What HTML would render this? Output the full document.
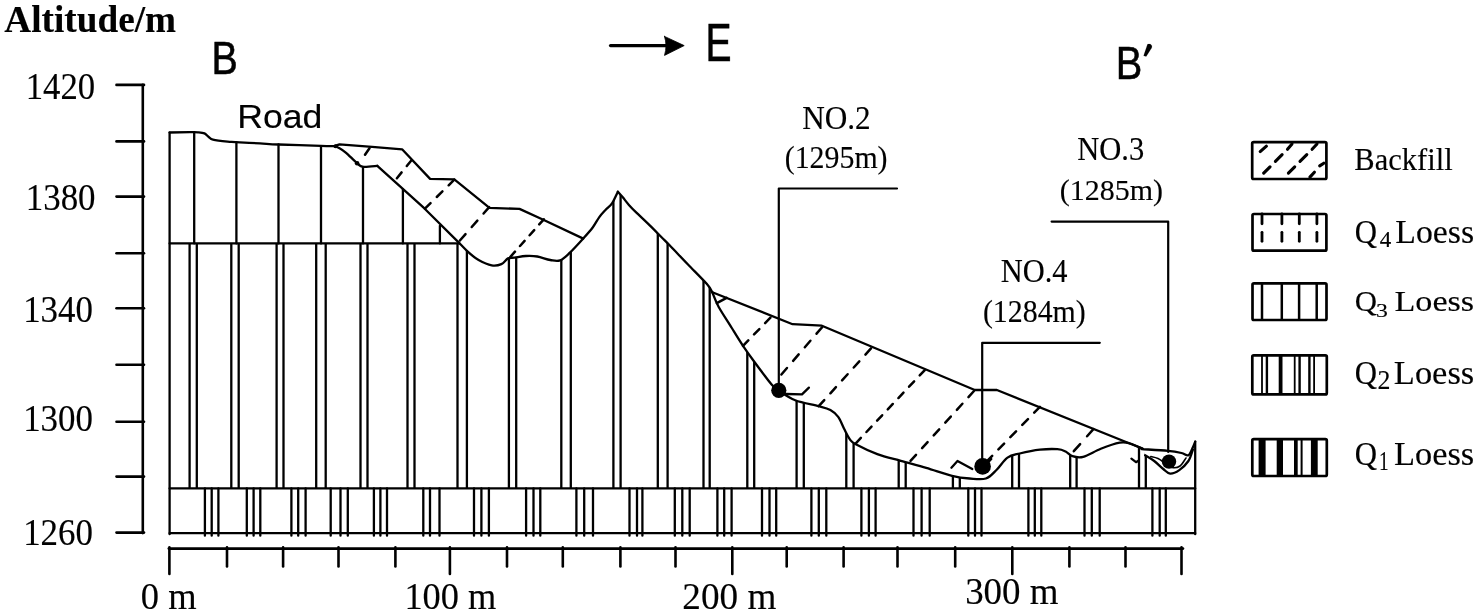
<!DOCTYPE html>
<html><head><meta charset="utf-8"><title>Cross-section B-B'</title>
<style>html,body{margin:0;padding:0;background:#fff;}body{width:1479px;height:614px;overflow:hidden;font-family:"Liberation Serif",serif;}svg{display:block;}</style>
</head><body>
<svg width="1479" height="614" viewBox="0 0 1479 614"><rect width="1479" height="614" fill="#fff"/><g stroke="#000" stroke-linecap="round" stroke-linejoin="round" fill="none"><line x1="610.5" y1="45.6" x2="668.0" y2="45.6" stroke-width="3.2" />
<path d="M664.5,36.4 L684.2,45.6 L664.5,55.4 Q667.5,45.6 664.5,36.4 Z" fill="#000" stroke="#000" stroke-width="0.8"/>
<line x1="142.8" y1="84.9" x2="142.8" y2="533.1" stroke-width="2.6" />
<line x1="116.5" y1="84.9" x2="144.0" y2="84.9" stroke-width="2.6" />
<line x1="116.5" y1="141.4" x2="144.0" y2="141.4" stroke-width="2.6" />
<line x1="116.5" y1="196.6" x2="144.0" y2="196.6" stroke-width="2.6" />
<line x1="116.5" y1="253.2" x2="144.0" y2="253.2" stroke-width="2.6" />
<line x1="116.5" y1="308.2" x2="144.0" y2="308.2" stroke-width="2.6" />
<line x1="116.5" y1="364.8" x2="144.0" y2="364.8" stroke-width="2.6" />
<line x1="116.5" y1="421.8" x2="144.0" y2="421.8" stroke-width="2.6" />
<line x1="116.5" y1="476.6" x2="144.0" y2="476.6" stroke-width="2.6" />
<line x1="116.5" y1="532.6" x2="144.0" y2="532.6" stroke-width="2.6" />
<line x1="168.8" y1="548.6" x2="1183.0" y2="548.6" stroke-width="2.6" />
<line x1="169.4" y1="547.4" x2="169.4" y2="574.0" stroke-width="2.6" />
<line x1="227.0" y1="547.4" x2="227.0" y2="566.5" stroke-width="2.6" />
<line x1="283.1" y1="547.4" x2="283.1" y2="566.5" stroke-width="2.6" />
<line x1="338.5" y1="547.4" x2="338.5" y2="566.5" stroke-width="2.6" />
<line x1="395.4" y1="547.4" x2="395.4" y2="566.5" stroke-width="2.6" />
<line x1="449.9" y1="547.4" x2="449.9" y2="574.0" stroke-width="2.6" />
<line x1="507.0" y1="547.4" x2="507.0" y2="566.5" stroke-width="2.6" />
<line x1="562.8" y1="547.4" x2="562.8" y2="566.5" stroke-width="2.6" />
<line x1="620.4" y1="547.4" x2="620.4" y2="566.5" stroke-width="2.6" />
<line x1="675.5" y1="547.4" x2="675.5" y2="566.5" stroke-width="2.6" />
<line x1="732.3" y1="547.4" x2="732.3" y2="574.0" stroke-width="2.6" />
<line x1="786.7" y1="547.4" x2="786.7" y2="566.5" stroke-width="2.6" />
<line x1="843.6" y1="547.4" x2="843.6" y2="566.5" stroke-width="2.6" />
<line x1="897.5" y1="547.4" x2="897.5" y2="566.5" stroke-width="2.6" />
<line x1="955.2" y1="547.4" x2="955.2" y2="566.5" stroke-width="2.6" />
<line x1="1012.3" y1="547.4" x2="1012.3" y2="574.0" stroke-width="2.6" />
<line x1="1069.4" y1="547.4" x2="1069.4" y2="566.5" stroke-width="2.6" />
<line x1="1125.5" y1="547.4" x2="1125.5" y2="566.5" stroke-width="2.6" />
<line x1="1181.5" y1="547.4" x2="1181.5" y2="574.0" stroke-width="2.6" />
<line x1="204.9" y1="488.4" x2="204.9" y2="535.7" stroke-width="2.3" />
<line x1="211.7" y1="488.4" x2="211.7" y2="535.7" stroke-width="2.3" />
<line x1="218.4" y1="488.4" x2="218.4" y2="535.7" stroke-width="2.3" />
<line x1="246.8" y1="488.4" x2="246.8" y2="535.7" stroke-width="2.3" />
<line x1="253.6" y1="488.4" x2="253.6" y2="535.7" stroke-width="2.3" />
<line x1="260.3" y1="488.4" x2="260.3" y2="535.7" stroke-width="2.3" />
<line x1="291.4" y1="488.4" x2="291.4" y2="535.7" stroke-width="2.3" />
<line x1="298.2" y1="488.4" x2="298.2" y2="535.7" stroke-width="2.3" />
<line x1="305.6" y1="488.4" x2="305.6" y2="535.7" stroke-width="2.3" />
<line x1="330.7" y1="488.4" x2="330.7" y2="535.7" stroke-width="2.3" />
<line x1="340.5" y1="488.4" x2="340.5" y2="535.7" stroke-width="2.3" />
<line x1="347.8" y1="488.4" x2="347.8" y2="535.7" stroke-width="2.3" />
<line x1="373.9" y1="488.4" x2="373.9" y2="535.7" stroke-width="2.3" />
<line x1="380.4" y1="488.4" x2="380.4" y2="535.7" stroke-width="2.3" />
<line x1="387.0" y1="488.4" x2="387.0" y2="535.7" stroke-width="2.3" />
<line x1="423.3" y1="488.4" x2="423.3" y2="535.7" stroke-width="2.3" />
<line x1="430.0" y1="488.4" x2="430.0" y2="535.7" stroke-width="2.3" />
<line x1="439.5" y1="488.4" x2="439.5" y2="535.7" stroke-width="2.3" />
<line x1="474.0" y1="488.4" x2="474.0" y2="535.7" stroke-width="2.3" />
<line x1="481.4" y1="488.4" x2="481.4" y2="535.7" stroke-width="2.3" />
<line x1="488.9" y1="488.4" x2="488.9" y2="535.7" stroke-width="2.3" />
<line x1="526.1" y1="488.4" x2="526.1" y2="535.7" stroke-width="2.3" />
<line x1="533.5" y1="488.4" x2="533.5" y2="535.7" stroke-width="2.3" />
<line x1="540.3" y1="488.4" x2="540.3" y2="535.7" stroke-width="2.3" />
<line x1="576.4" y1="488.4" x2="576.4" y2="535.7" stroke-width="2.3" />
<line x1="584.2" y1="488.4" x2="584.2" y2="535.7" stroke-width="2.3" />
<line x1="593.0" y1="488.4" x2="593.0" y2="535.7" stroke-width="2.3" />
<line x1="629.5" y1="488.4" x2="629.5" y2="535.7" stroke-width="2.3" />
<line x1="637.0" y1="488.4" x2="637.0" y2="535.7" stroke-width="2.3" />
<line x1="642.4" y1="488.4" x2="642.4" y2="535.7" stroke-width="2.3" />
<line x1="674.8" y1="488.4" x2="674.8" y2="535.7" stroke-width="2.3" />
<line x1="682.3" y1="488.4" x2="682.3" y2="535.7" stroke-width="2.3" />
<line x1="689.7" y1="488.4" x2="689.7" y2="535.7" stroke-width="2.3" />
<line x1="717.4" y1="488.4" x2="717.4" y2="535.7" stroke-width="2.3" />
<line x1="724.2" y1="488.4" x2="724.2" y2="535.7" stroke-width="2.3" />
<line x1="731.6" y1="488.4" x2="731.6" y2="535.7" stroke-width="2.3" />
<line x1="762.0" y1="488.4" x2="762.0" y2="535.7" stroke-width="2.3" />
<line x1="769.5" y1="488.4" x2="769.5" y2="535.7" stroke-width="2.3" />
<line x1="776.2" y1="488.4" x2="776.2" y2="535.7" stroke-width="2.3" />
<line x1="811.4" y1="488.4" x2="811.4" y2="535.7" stroke-width="2.3" />
<line x1="818.8" y1="488.4" x2="818.8" y2="535.7" stroke-width="2.3" />
<line x1="826.3" y1="488.4" x2="826.3" y2="535.7" stroke-width="2.3" />
<line x1="861.4" y1="488.4" x2="861.4" y2="535.7" stroke-width="2.3" />
<line x1="868.9" y1="488.4" x2="868.9" y2="535.7" stroke-width="2.3" />
<line x1="875.6" y1="488.4" x2="875.6" y2="535.7" stroke-width="2.3" />
<line x1="913.5" y1="488.4" x2="913.5" y2="535.7" stroke-width="2.3" />
<line x1="921.6" y1="488.4" x2="921.6" y2="535.7" stroke-width="2.3" />
<line x1="929.7" y1="488.4" x2="929.7" y2="535.7" stroke-width="2.3" />
<line x1="968.3" y1="488.4" x2="968.3" y2="535.7" stroke-width="2.3" />
<line x1="975.0" y1="488.4" x2="975.0" y2="535.7" stroke-width="2.3" />
<line x1="981.5" y1="488.4" x2="981.5" y2="535.7" stroke-width="2.3" />
<line x1="1028.4" y1="488.4" x2="1028.4" y2="535.7" stroke-width="2.3" />
<line x1="1034.8" y1="488.4" x2="1034.8" y2="535.7" stroke-width="2.3" />
<line x1="1041.3" y1="488.4" x2="1041.3" y2="535.7" stroke-width="2.3" />
<line x1="1084.5" y1="488.4" x2="1084.5" y2="535.7" stroke-width="2.3" />
<line x1="1091.8" y1="488.4" x2="1091.8" y2="535.7" stroke-width="2.3" />
<line x1="1099.7" y1="488.4" x2="1099.7" y2="535.7" stroke-width="2.3" />
<line x1="1152.4" y1="488.4" x2="1152.4" y2="535.7" stroke-width="2.3" />
<line x1="1159.7" y1="488.4" x2="1159.7" y2="535.7" stroke-width="2.3" />
<line x1="1165.8" y1="488.4" x2="1165.8" y2="535.7" stroke-width="2.3" />
<clipPath id="q2clip"><path d="M169.6,243.4 L459.1,243.4 L459.1,242.9 C460.7,244.5 465.6,249.8 468.9,252.7 C472.1,255.5 474.8,257.9 478.6,260.0 C482.4,262.1 487.9,264.6 491.7,265.3 C495.5,266.0 498.7,265.2 501.4,264.1 C504.1,263.0 505.8,259.5 508.0,258.4 C510.2,257.3 511.5,258.0 514.5,257.6 C517.5,257.2 522.1,256.2 525.9,256.0 C529.7,255.8 533.2,255.8 537.3,256.5 C541.4,257.2 546.5,259.4 550.3,260.0 C554.1,260.6 556.8,261.6 560.1,260.4 C563.4,259.2 566.1,256.3 569.9,252.7 C573.7,249.1 579.1,243.1 582.9,238.9 C586.7,234.7 590.0,231.1 592.7,227.5 C595.4,223.9 597.1,220.1 599.3,217.1 C601.5,214.1 604.0,211.6 606.1,209.3 C608.2,207.0 610.0,206.3 612.0,203.4 C614.0,200.5 616.9,193.6 617.9,191.7 L617.9,191.7 C618.8,192.7 621.2,195.4 623.0,197.6 C624.8,199.8 626.7,202.4 628.9,204.9 C631.1,207.4 632.9,209.2 636.4,212.6 C639.9,216.0 645.8,221.4 650.0,225.6 C654.2,229.8 658.5,234.2 661.8,237.5 C665.1,240.8 665.2,240.8 669.6,245.3 C674.0,249.8 681.8,258.1 688.0,264.5 C694.2,270.9 702.7,279.2 706.7,283.8 C710.8,288.4 711.4,290.9 712.3,292.3 L712.3,292.3 C713.4,294.8 715.5,301.1 718.7,307.0 C722.0,312.9 727.8,321.5 731.8,328.0 C735.8,334.5 739.2,340.2 743.0,345.8 C746.8,351.4 750.5,356.6 754.3,361.7 C758.0,366.8 762.4,372.6 765.5,376.7 C768.6,380.8 770.8,383.7 773.0,386.0 C775.2,388.3 774.9,388.1 778.6,390.5 C782.3,392.9 788.5,397.7 795.2,400.3 C801.9,402.9 812.8,404.6 818.7,406.2 C824.6,407.8 827.1,408.3 830.4,410.1 C833.6,411.9 835.9,413.8 838.2,416.9 C840.5,420.0 842.2,424.9 844.1,428.7 C846.0,432.4 848.0,436.8 849.9,439.4 C851.8,442.0 851.2,441.9 855.8,444.3 C860.4,446.8 869.8,451.3 877.3,454.1 C884.8,456.9 892.6,458.6 900.8,460.9 C908.9,463.2 917.7,465.3 926.2,467.8 C934.7,470.3 944.8,474.0 952.0,475.8 C959.2,477.6 964.0,478.1 969.6,478.5 C975.2,478.9 981.4,480.0 985.9,478.5 C990.4,477.0 993.1,473.2 996.7,469.7 C1000.3,466.2 1003.7,460.3 1007.5,457.6 C1011.3,454.9 1014.3,454.8 1019.7,453.5 C1025.1,452.2 1033.7,450.4 1040.0,449.7 C1046.3,449.0 1053.2,448.9 1057.5,449.2 C1061.8,449.5 1063.1,450.3 1065.6,451.5 C1068.1,452.7 1069.5,455.3 1072.4,456.2 C1075.3,457.1 1078.5,458.1 1083.2,456.9 C1087.9,455.7 1094.7,451.2 1100.8,448.8 C1106.9,446.4 1114.8,443.6 1119.7,442.7 C1124.6,441.8 1126.2,442.5 1130.0,443.5 C1133.8,444.5 1140.7,447.9 1142.8,448.8 L1145.1,455.3 L1145.1,455.3 C1146.6,456.2 1151.2,458.7 1154.2,461.0 C1157.2,463.3 1160.7,466.9 1163.3,469.0 C1165.9,471.1 1167.4,473.4 1170.1,473.6 C1172.8,473.8 1176.2,472.2 1179.3,470.1 C1182.3,468.0 1186.1,464.4 1188.4,461.0 C1190.7,457.6 1192.2,451.5 1192.9,449.6 L1195.2,449.6 L1195.2,488.4 L169.6,488.4 Z"/></clipPath>
<g clip-path="url(#q2clip)">
<line x1="189.6" y1="150.0" x2="189.6" y2="490.4" stroke-width="2.3" stroke-linecap="butt"/>
<line x1="196.8" y1="150.0" x2="196.8" y2="490.4" stroke-width="2.3" stroke-linecap="butt"/>
<line x1="231.3" y1="150.0" x2="231.3" y2="490.4" stroke-width="2.3" stroke-linecap="butt"/>
<line x1="238.7" y1="150.0" x2="238.7" y2="490.4" stroke-width="2.3" stroke-linecap="butt"/>
<line x1="276.6" y1="150.0" x2="276.6" y2="490.4" stroke-width="2.3" stroke-linecap="butt"/>
<line x1="283.5" y1="150.0" x2="283.5" y2="490.4" stroke-width="2.3" stroke-linecap="butt"/>
<line x1="316.2" y1="150.0" x2="316.2" y2="490.4" stroke-width="2.3" stroke-linecap="butt"/>
<line x1="325.7" y1="150.0" x2="325.7" y2="490.4" stroke-width="2.3" stroke-linecap="butt"/>
<line x1="360.5" y1="150.0" x2="360.5" y2="490.4" stroke-width="2.3" stroke-linecap="butt"/>
<line x1="367.5" y1="150.0" x2="367.5" y2="490.4" stroke-width="2.3" stroke-linecap="butt"/>
<line x1="407.5" y1="150.0" x2="407.5" y2="490.4" stroke-width="2.3" stroke-linecap="butt"/>
<line x1="414.5" y1="150.0" x2="414.5" y2="490.4" stroke-width="2.3" stroke-linecap="butt"/>
<line x1="457.5" y1="150.0" x2="457.5" y2="490.4" stroke-width="2.3" stroke-linecap="butt"/>
<line x1="466.9" y1="150.0" x2="466.9" y2="490.4" stroke-width="2.3" stroke-linecap="butt"/>
<line x1="508.9" y1="150.0" x2="508.9" y2="490.4" stroke-width="2.3" stroke-linecap="butt"/>
<line x1="516.2" y1="150.0" x2="516.2" y2="490.4" stroke-width="2.3" stroke-linecap="butt"/>
<line x1="561.3" y1="150.0" x2="561.3" y2="490.4" stroke-width="2.3" stroke-linecap="butt"/>
<line x1="570.8" y1="150.0" x2="570.8" y2="490.4" stroke-width="2.3" stroke-linecap="butt"/>
<line x1="613.4" y1="150.0" x2="613.4" y2="490.4" stroke-width="2.3" stroke-linecap="butt"/>
<line x1="620.6" y1="150.0" x2="620.6" y2="490.4" stroke-width="2.3" stroke-linecap="butt"/>
<line x1="657.8" y1="150.0" x2="657.8" y2="490.4" stroke-width="2.3" stroke-linecap="butt"/>
<line x1="667.6" y1="150.0" x2="667.6" y2="490.4" stroke-width="2.3" stroke-linecap="butt"/>
<line x1="703.5" y1="150.0" x2="703.5" y2="490.4" stroke-width="2.3" stroke-linecap="butt"/>
<line x1="709.7" y1="150.0" x2="709.7" y2="490.4" stroke-width="2.3" stroke-linecap="butt"/>
<line x1="747.3" y1="150.0" x2="747.3" y2="490.4" stroke-width="2.3" stroke-linecap="butt"/>
<line x1="754.2" y1="150.0" x2="754.2" y2="490.4" stroke-width="2.3" stroke-linecap="butt"/>
<line x1="796.6" y1="150.0" x2="796.6" y2="490.4" stroke-width="2.3" stroke-linecap="butt"/>
<line x1="803.8" y1="150.0" x2="803.8" y2="490.4" stroke-width="2.3" stroke-linecap="butt"/>
<line x1="846.3" y1="150.0" x2="846.3" y2="490.4" stroke-width="2.3" stroke-linecap="butt"/>
<line x1="853.6" y1="150.0" x2="853.6" y2="490.4" stroke-width="2.3" stroke-linecap="butt"/>
<line x1="898.7" y1="150.0" x2="898.7" y2="490.4" stroke-width="2.3" stroke-linecap="butt"/>
<line x1="905.7" y1="150.0" x2="905.7" y2="490.4" stroke-width="2.3" stroke-linecap="butt"/>
<line x1="952.9" y1="150.0" x2="952.9" y2="490.4" stroke-width="2.3" stroke-linecap="butt"/>
<line x1="959.8" y1="150.0" x2="959.8" y2="490.4" stroke-width="2.3" stroke-linecap="butt"/>
<line x1="1012.2" y1="150.0" x2="1012.2" y2="490.4" stroke-width="2.3" stroke-linecap="butt"/>
<line x1="1019.0" y1="150.0" x2="1019.0" y2="490.4" stroke-width="2.3" stroke-linecap="butt"/>
<line x1="1070.2" y1="150.0" x2="1070.2" y2="490.4" stroke-width="2.3" stroke-linecap="butt"/>
<line x1="1076.6" y1="150.0" x2="1076.6" y2="490.4" stroke-width="2.3" stroke-linecap="butt"/>
<line x1="1139.0" y1="150.0" x2="1139.0" y2="490.4" stroke-width="2.3" stroke-linecap="butt"/>
<line x1="1145.8" y1="150.0" x2="1145.8" y2="490.4" stroke-width="2.3" stroke-linecap="butt"/>
</g>
<line x1="194.2" y1="132.5" x2="194.2" y2="243.4" stroke-width="2.3" />
<line x1="236.4" y1="142.2" x2="236.4" y2="243.4" stroke-width="2.3" />
<line x1="278.5" y1="144.4" x2="278.5" y2="243.4" stroke-width="2.3" />
<line x1="321.0" y1="146.2" x2="321.0" y2="243.4" stroke-width="2.3" />
<line x1="363.0" y1="166.8" x2="363.0" y2="243.4" stroke-width="2.3" />
<line x1="402.9" y1="189.5" x2="402.9" y2="243.4" stroke-width="2.3" />
<line x1="439.9" y1="225.8" x2="439.9" y2="243.4" stroke-width="2.3" />
<line x1="169.6" y1="488.4" x2="1195.2" y2="488.4" stroke-width="2.3" />
<line x1="169.6" y1="243.4" x2="459.0" y2="243.4" stroke-width="2.3" />
<line x1="169.6" y1="533.2" x2="1195.2" y2="533.2" stroke-width="2.3" />
<line x1="169.6" y1="132.6" x2="169.6" y2="534.2" stroke-width="2.3" />
<line x1="1195.2" y1="441.6" x2="1195.2" y2="534.2" stroke-width="2.3" />
<path d="M169.6,132.5 C173.0,132.4 185.3,132.2 190.0,132.2 C194.7,132.2 195.6,132.1 198.0,132.3 C200.4,132.5 202.7,132.6 204.5,133.4 C206.3,134.2 207.6,136.2 209.0,137.2 C210.4,138.2 209.9,138.9 213.0,139.6 C216.1,140.3 223.9,141.2 227.6,141.6 C231.3,142.0 229.9,141.8 235.3,142.1 C240.7,142.4 252.8,143.0 260.0,143.4 C267.2,143.8 268.4,144.1 278.6,144.5 C288.8,144.9 311.7,145.6 321.0,145.9 C330.3,146.2 332.1,146.1 334.3,146.2" fill="none" stroke-width="2.3" />
<polyline points="334.3,146.2 339.5,144.3 372.1,146.9 402.1,149.3 430.1,178.9 454.3,179.4 489.5,207.8 519.5,208.9 542.2,219.3 583.3,238.6" fill="none" stroke-width="2.3" />
<path d="M334.3,146.2 C335.2,146.5 337.5,147.1 339.5,148.2 C341.5,149.3 343.2,150.3 346.1,152.8 C349.0,155.3 354.3,160.9 357.1,163.2 C359.9,165.5 359.6,166.4 363.0,166.8 C366.4,167.2 374.9,166.0 377.3,165.8" fill="none" stroke-width="2.3" />
<polyline points="377.3,165.8 424.2,208.2 459.1,242.9" fill="none" stroke-width="2.3" />
<path d="M459.1,242.9 C460.7,244.5 465.6,249.8 468.9,252.7 C472.1,255.5 474.8,257.9 478.6,260.0 C482.4,262.1 487.9,264.6 491.7,265.3 C495.5,266.0 498.7,265.2 501.4,264.1 C504.1,263.0 505.8,259.5 508.0,258.4 C510.2,257.3 511.5,258.0 514.5,257.6 C517.5,257.2 522.1,256.2 525.9,256.0 C529.7,255.8 533.2,255.8 537.3,256.5 C541.4,257.2 546.5,259.4 550.3,260.0 C554.1,260.6 556.8,261.6 560.1,260.4 C563.4,259.2 566.1,256.3 569.9,252.7 C573.7,249.1 579.1,243.1 582.9,238.9 C586.7,234.7 590.0,231.1 592.7,227.5 C595.4,223.9 597.1,220.1 599.3,217.1 C601.5,214.1 604.0,211.6 606.1,209.3 C608.2,207.0 610.0,206.3 612.0,203.4 C614.0,200.5 616.9,193.6 617.9,191.7" fill="none" stroke-width="2.3" />
<path d="M617.9,191.7 C618.8,192.7 621.2,195.4 623.0,197.6 C624.8,199.8 626.7,202.4 628.9,204.9 C631.1,207.4 632.9,209.2 636.4,212.6 C639.9,216.0 645.8,221.4 650.0,225.6 C654.2,229.8 658.5,234.2 661.8,237.5 C665.1,240.8 665.2,240.8 669.6,245.3 C674.0,249.8 681.8,258.1 688.0,264.5 C694.2,270.9 702.7,279.2 706.7,283.8 C710.8,288.4 711.4,290.9 712.3,292.3" fill="none" stroke-width="2.3" />
<polyline points="712.3,292.3 792.6,324.2 821.9,325.7 974.8,390.0 996.9,390.0 1142.8,448.8" fill="none" stroke-width="2.3" />
<path d="M712.3,292.3 C713.4,294.8 715.5,301.1 718.7,307.0 C722.0,312.9 727.8,321.5 731.8,328.0 C735.8,334.5 739.2,340.2 743.0,345.8 C746.8,351.4 750.5,356.6 754.3,361.7 C758.0,366.8 762.4,372.6 765.5,376.7 C768.6,380.8 770.8,383.7 773.0,386.0 C775.2,388.3 774.9,388.1 778.6,390.5 C782.3,392.9 788.5,397.7 795.2,400.3 C801.9,402.9 812.8,404.6 818.7,406.2 C824.6,407.8 827.1,408.3 830.4,410.1 C833.6,411.9 835.9,413.8 838.2,416.9 C840.5,420.0 842.2,424.9 844.1,428.7 C846.0,432.4 848.0,436.8 849.9,439.4 C851.8,442.0 851.2,441.9 855.8,444.3 C860.4,446.8 869.8,451.3 877.3,454.1 C884.8,456.9 892.6,458.6 900.8,460.9 C908.9,463.2 917.7,465.3 926.2,467.8 C934.7,470.3 944.8,474.0 952.0,475.8 C959.2,477.6 964.0,478.1 969.6,478.5 C975.2,478.9 981.4,480.0 985.9,478.5 C990.4,477.0 993.1,473.2 996.7,469.7 C1000.3,466.2 1003.7,460.3 1007.5,457.6 C1011.3,454.9 1014.3,454.8 1019.7,453.5 C1025.1,452.2 1033.7,450.4 1040.0,449.7 C1046.3,449.0 1053.2,448.9 1057.5,449.2 C1061.8,449.5 1063.1,450.3 1065.6,451.5 C1068.1,452.7 1069.5,455.3 1072.4,456.2 C1075.3,457.1 1078.5,458.1 1083.2,456.9 C1087.9,455.7 1094.7,451.2 1100.8,448.8 C1106.9,446.4 1114.8,443.6 1119.7,442.7 C1124.6,441.8 1126.2,442.5 1130.0,443.5 C1133.8,444.5 1140.7,447.9 1142.8,448.8" fill="none" stroke-width="2.3" />
<path d="M1141.6,449.1 C1146.0,449.4 1161.2,450.2 1167.9,450.8 C1174.6,451.4 1178.1,452.2 1181.5,453.0 C1184.9,453.8 1186.5,456.2 1188.4,455.3 C1190.3,454.4 1191.8,449.6 1192.9,447.3 C1194.0,445.0 1194.8,442.6 1195.2,441.6" fill="none" stroke-width="2.3" />
<path d="M1145.1,455.3 C1146.6,456.2 1151.2,458.7 1154.2,461.0 C1157.2,463.3 1160.7,466.9 1163.3,469.0 C1165.9,471.1 1167.4,473.4 1170.1,473.6 C1172.8,473.8 1176.2,472.2 1179.3,470.1 C1182.3,468.0 1186.1,464.4 1188.4,461.0 C1190.7,457.6 1192.2,451.5 1192.9,449.6" fill="none" stroke-width="2.3" />
<path d="M1150.8,456.5 C1152.0,456.8 1155.6,457.4 1158.0,458.5 C1160.4,459.6 1162.7,461.5 1165.0,463.0 C1167.3,464.5 1169.5,467.0 1172.0,467.5 C1174.5,468.0 1177.7,467.6 1180.0,466.0 C1182.3,464.4 1185.0,459.3 1186.0,458.0" fill="none" stroke-width="1.6" />
<polyline points="951.4,467.7 957.5,461.0 972.3,469.0" fill="none" stroke-width="2.3" />
<polyline points="987.5,463.0 991.3,459.0" fill="none" stroke-width="2.3" />
<polyline points="1131.4,458.7 1136.0,462.2 1138.8,460.5" fill="none" stroke-width="2.3" />
<circle cx="357.1" cy="163.2" r="2.3" fill="#000" stroke="none"/>
<circle cx="335.6" cy="146.3" r="2.0" fill="#000" stroke="none"/>
<polyline points="786.0,394.0 802.0,394.4 808.9,387.6" fill="none" stroke-width="2.3" />
<polyline points="897.0,188.5 778.8,188.5 778.8,385.0" fill="none" stroke-width="2.2" />
<polyline points="1099.8,342.8 982.2,342.8 982.2,460.0" fill="none" stroke-width="2.2" />
<polyline points="1051.6,221.6 1168.2,221.6 1168.2,452.0" fill="none" stroke-width="2.2" />
<circle cx="778.8" cy="390.3" r="7.6" fill="#000" stroke="none"/>
<circle cx="982.6" cy="466.4" r="8.3" fill="#000" stroke="none"/>
<circle cx="1169.0" cy="461.6" r="7.2" fill="#000" stroke="none"/>
<line x1="365.0" y1="154.8" x2="369.5" y2="148.2" stroke-width="2.5" stroke-dasharray="7.99 0.00" stroke-linecap="round"/>
<line x1="396.9" y1="178.2" x2="411.5" y2="160.2" stroke-width="2.5" stroke-dasharray="7.48 8.22" stroke-linecap="round"/>
<line x1="424.9" y1="208.7" x2="454.3" y2="179.7" stroke-width="2.5" stroke-dasharray="7.94 8.74" stroke-linecap="round"/>
<line x1="459.9" y1="240.5" x2="489.2" y2="207.1" stroke-width="2.5" stroke-dasharray="8.54 9.40" stroke-linecap="round"/>
<line x1="510.4" y1="256.8" x2="543.8" y2="219.3" stroke-width="2.5" stroke-dasharray="6.88 7.57" stroke-linecap="round"/>
<line x1="716.8" y1="303.2" x2="726.6" y2="297.8" stroke-width="2.5" stroke-dasharray="11.19 0.00" stroke-linecap="round"/>
<line x1="743.0" y1="345.8" x2="770.4" y2="317.7" stroke-width="2.5" stroke-dasharray="7.55 8.30" stroke-linecap="round"/>
<line x1="781.4" y1="374.5" x2="822.1" y2="327.2" stroke-width="2.5" stroke-dasharray="8.55 9.40" stroke-linecap="round"/>
<line x1="818.7" y1="406.2" x2="871.0" y2="348.4" stroke-width="2.5" stroke-dasharray="8.29 9.12" stroke-linecap="round"/>
<line x1="855.8" y1="443.3" x2="924.8" y2="370.0" stroke-width="2.5" stroke-dasharray="7.40 8.14" stroke-linecap="round"/>
<line x1="910.5" y1="460.9" x2="974.0" y2="391.0" stroke-width="2.5" stroke-dasharray="8.21 9.03" stroke-linecap="round"/>
<line x1="986.5" y1="461.6" x2="1039.9" y2="406.9" stroke-width="2.5" stroke-dasharray="8.13 8.95" stroke-linecap="round"/>
<line x1="1073.8" y1="451.2" x2="1093.4" y2="429.1" stroke-width="2.5" stroke-dasharray="9.53 10.48" stroke-linecap="round"/>
<rect x="1252.2" y="142.1" width="74.20000000000005" height="36.900000000000006" fill="none" stroke-width="2.7" rx="1.5"/>
<line x1="1260.2" y1="151.6" x2="1266.4" y2="146.2" stroke-width="3.1" stroke-linecap="round"/>
<line x1="1263.7" y1="173.1" x2="1270.0" y2="166.8" stroke-width="3.1" stroke-linecap="round"/>
<line x1="1275.4" y1="161.4" x2="1282.1" y2="154.7" stroke-width="3.1" stroke-linecap="round"/>
<line x1="1287.5" y1="149.3" x2="1292.0" y2="144.0" stroke-width="3.1" stroke-linecap="round"/>
<line x1="1288.4" y1="173.1" x2="1294.7" y2="166.8" stroke-width="3.1" stroke-linecap="round"/>
<line x1="1300.0" y1="161.4" x2="1306.8" y2="154.7" stroke-width="3.1" stroke-linecap="round"/>
<line x1="1312.1" y1="149.3" x2="1317.0" y2="144.0" stroke-width="3.1" stroke-linecap="round"/>
<line x1="1309.9" y1="177.1" x2="1314.4" y2="172.2" stroke-width="3.1" stroke-linecap="round"/>
<line x1="1319.7" y1="165.9" x2="1323.8" y2="163.2" stroke-width="3.1" stroke-linecap="round"/>
<rect x="1252.5" y="214.0" width="73.90000000000009" height="36.69999999999999" fill="none" stroke-width="2.7" rx="1.5"/>
<line x1="1262.0" y1="214.0" x2="1262.0" y2="223.8" stroke-width="2.8" stroke-linecap="round"/>
<line x1="1262.0" y1="232.3" x2="1262.0" y2="241.3" stroke-width="2.8" stroke-linecap="round"/>
<line x1="1281.9" y1="214.0" x2="1281.9" y2="223.8" stroke-width="2.8" stroke-linecap="round"/>
<line x1="1281.9" y1="232.3" x2="1281.9" y2="241.3" stroke-width="2.8" stroke-linecap="round"/>
<line x1="1299.3" y1="214.0" x2="1299.3" y2="223.8" stroke-width="2.8" stroke-linecap="round"/>
<line x1="1299.3" y1="232.3" x2="1299.3" y2="241.3" stroke-width="2.8" stroke-linecap="round"/>
<line x1="1316.9" y1="214.0" x2="1316.9" y2="223.8" stroke-width="2.8" stroke-linecap="round"/>
<line x1="1316.9" y1="232.3" x2="1316.9" y2="241.3" stroke-width="2.8" stroke-linecap="round"/>
<rect x="1252.5" y="283.3" width="74.0" height="36.69999999999999" fill="none" stroke-width="2.7" rx="1.5"/>
<line x1="1262.0" y1="283.3" x2="1262.0" y2="320.0" stroke-width="2.5" stroke-linecap="butt"/>
<line x1="1281.8" y1="283.3" x2="1281.8" y2="320.0" stroke-width="2.5" stroke-linecap="butt"/>
<line x1="1299.1" y1="283.3" x2="1299.1" y2="320.0" stroke-width="2.5" stroke-linecap="butt"/>
<line x1="1316.7" y1="283.3" x2="1316.7" y2="320.0" stroke-width="2.5" stroke-linecap="butt"/>
<rect x="1252.3" y="355.3" width="74.5" height="39.099999999999966" fill="none" stroke-width="2.7" rx="1.5"/>
<line x1="1262.0" y1="355.3" x2="1262.0" y2="394.4" stroke-width="1.8" stroke-linecap="butt"/>
<line x1="1266.9" y1="355.3" x2="1266.9" y2="394.4" stroke-width="2.4" stroke-linecap="butt"/>
<line x1="1280.6" y1="355.3" x2="1280.6" y2="394.4" stroke-width="3.8" stroke-linecap="butt"/>
<line x1="1294.7" y1="355.3" x2="1294.7" y2="394.4" stroke-width="1.8" stroke-linecap="butt"/>
<line x1="1299.6" y1="355.3" x2="1299.6" y2="394.4" stroke-width="2.4" stroke-linecap="butt"/>
<line x1="1309.4" y1="355.3" x2="1309.4" y2="394.4" stroke-width="2.4" stroke-linecap="butt"/>
<line x1="1314.1" y1="355.3" x2="1314.1" y2="394.4" stroke-width="1.8" stroke-linecap="butt"/>
<rect x="1252.3" y="439.2" width="74.5" height="36.80000000000001" fill="none" stroke-width="2.7" rx="1.5"/>
<rect x="1258.6" y="439.2" width="7.0" height="36.8" fill="#000" stroke="none"/>
<rect x="1276.7" y="439.2" width="6.2999999999999545" height="36.8" fill="#000" stroke="none"/>
<rect x="1294.0" y="439.2" width="3.7000000000000455" height="36.8" fill="#000" stroke="none"/>
<rect x="1300.6" y="439.2" width="2.0" height="36.8" fill="#000" stroke="none"/>
<rect x="1310.9" y="439.2" width="6.7999999999999545" height="36.8" fill="#000" stroke="none"/></g><g fill="#000" stroke="#000" stroke-width="0.15" opacity="0.999"><text transform="translate(4.33 31.90) scale(0.9589 1)" font-family="Liberation Serif" font-weight="bold" font-size="38.85">Altitude/m</text>
<text stroke-width="0.6" transform="translate(211.55 73.90) scale(0.8473 1)" font-family="Liberation Sans" font-weight="normal" font-size="46.55">B</text>
<text stroke-width="0.6" transform="translate(705.58 61.40) scale(0.7281 1)" font-family="Liberation Sans" font-weight="normal" font-size="53.67">E</text>
<text stroke-width="0.6" transform="translate(1115.82 78.70) scale(0.8607 1)" font-family="Liberation Sans" font-weight="normal" font-size="46.25">B</text>
<text transform="translate(237.26 127.77) scale(1.0823 1)" font-family="Liberation Sans" font-weight="normal" font-size="32.93">Road</text>
<text transform="translate(25.76 98.52) scale(0.9227 1)" font-family="Liberation Serif" font-weight="normal" font-size="37.63">1420</text>
<text transform="translate(25.74 210.22) scale(0.9175 1)" font-family="Liberation Serif" font-weight="normal" font-size="38.07">1380</text>
<text transform="translate(23.14 321.82) scale(0.9175 1)" font-family="Liberation Serif" font-weight="normal" font-size="38.07">1340</text>
<text transform="translate(23.14 430.52) scale(0.9175 1)" font-family="Liberation Serif" font-weight="normal" font-size="38.07">1300</text>
<text transform="translate(23.14 544.62) scale(0.9140 1)" font-family="Liberation Serif" font-weight="normal" font-size="38.22">1260</text>
<text transform="translate(140.83 608.72) scale(0.9655 1)" font-family="Liberation Serif" font-weight="normal" font-size="37.78">0 m</text>
<text transform="translate(404.42 608.63) scale(0.9742 1)" font-family="Liberation Serif" font-weight="normal" font-size="37.33">100 m</text>
<text transform="translate(682.32 608.63) scale(0.9966 1)" font-family="Liberation Serif" font-weight="normal" font-size="37.33">200 m</text>
<text transform="translate(965.14 604.22) scale(0.9707 1)" font-family="Liberation Serif" font-weight="normal" font-size="38.07">300 m</text>
<text transform="translate(802.14 128.50) scale(0.9288 1)" font-family="Liberation Serif" font-weight="normal" font-size="33.59">NO.2</text>
<text transform="translate(784.73 168.00) scale(0.9525 1)" font-family="Liberation Serif" font-weight="normal" font-size="31.36">(1295m)</text>
<text transform="translate(1077.16 160.30) scale(0.9180 1)" font-family="Liberation Serif" font-weight="normal" font-size="33.28">NO.3</text>
<text transform="translate(1059.83 199.70) scale(1.0048 1)" font-family="Liberation Serif" font-weight="normal" font-size="29.85">(1285m)</text>
<text transform="translate(1000.76 282.30) scale(0.9101 1)" font-family="Liberation Serif" font-weight="normal" font-size="33.44">NO.4</text>
<text transform="translate(982.93 321.70) scale(0.9525 1)" font-family="Liberation Serif" font-weight="normal" font-size="31.36">(1284m)</text>
<text transform="translate(1354.36 170.30) scale(0.9863 1)" font-family="Liberation Serif" font-weight="normal" font-size="30.94">Backfill</text>
<text transform="translate(1395.27 242.60) scale(0.9849 1)" font-family="Liberation Serif" font-weight="normal" font-size="34.35">Loess</text>
<text transform="translate(1379.74 246.50) scale(1.0292 1)" font-family="Liberation Serif" font-weight="normal" font-size="22.36">4</text>
<text transform="translate(1354.77 242.60) scale(0.8974 1)" font-family="Liberation Serif" font-weight="normal" font-size="34.35">Q</text>
<text transform="translate(1394.46 311.30) scale(1.1309 1)" font-family="Liberation Serif" font-weight="normal" font-size="30.23">Loess</text>
<text transform="translate(1376.07 316.50) scale(1.2013 1)" font-family="Liberation Serif" font-weight="normal" font-size="19.78">3</text>
<text transform="translate(1354.77 311.30) scale(1.0198 1)" font-family="Liberation Serif" font-weight="normal" font-size="30.23">Q</text>
<text transform="translate(1393.85 384.00) scale(0.9940 1)" font-family="Liberation Serif" font-weight="normal" font-size="34.66">Loess</text>
<text transform="translate(1377.40 388.50) scale(0.9671 1)" font-family="Liberation Serif" font-weight="normal" font-size="26.72">2</text>
<text transform="translate(1354.77 384.00) scale(0.8895 1)" font-family="Liberation Serif" font-weight="normal" font-size="34.66">Q</text>
<text transform="translate(1393.95 465.30) scale(1.0106 1)" font-family="Liberation Serif" font-weight="normal" font-size="34.05">Loess</text>
<text transform="translate(1379.01 470.30) scale(0.7234 1)" font-family="Liberation Serif" font-weight="normal" font-size="26.67">1</text>
<text transform="translate(1354.77 465.30) scale(0.9055 1)" font-family="Liberation Serif" font-weight="normal" font-size="34.05">Q</text>
<path d="M1147.5,44.3 C1150.5,43.2 1152.8,45.2 1151.6,48 L1146.2,56.5 L1143.6,55.8 Z" fill="#000"/></g></svg>
</body></html>
